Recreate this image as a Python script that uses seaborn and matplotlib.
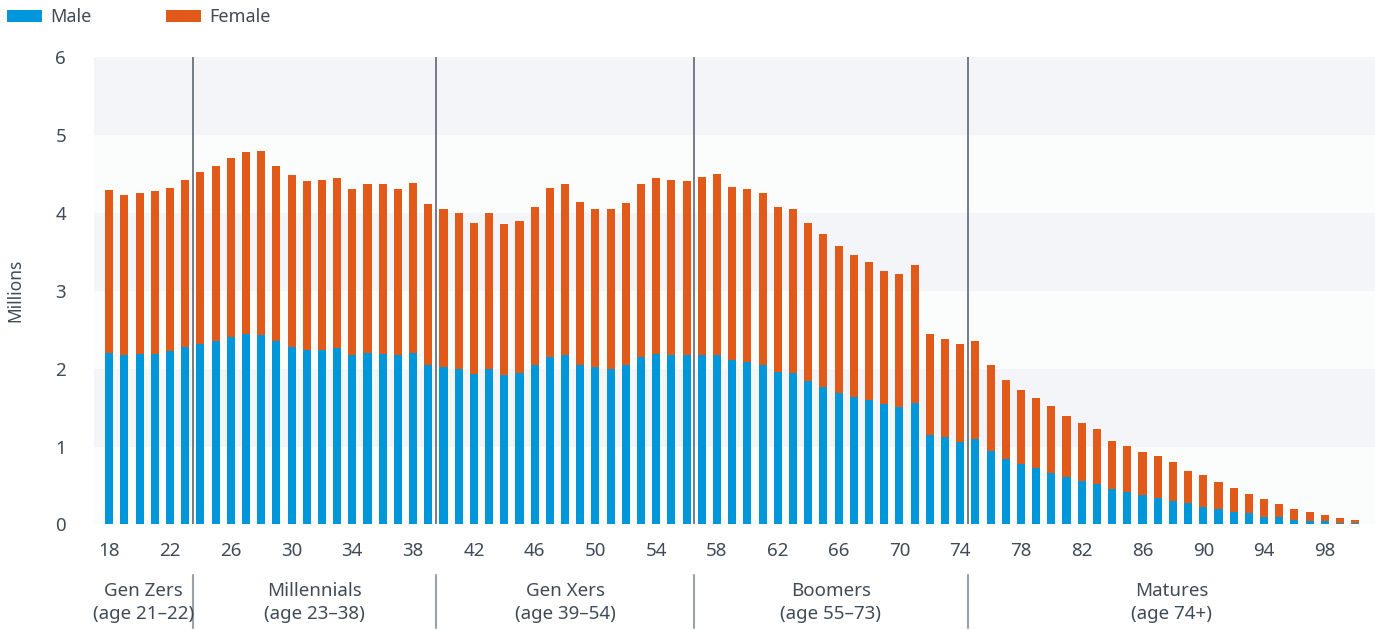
import numpy as np
import pandas as pd
import matplotlib
matplotlib.use("Agg")
import matplotlib.pyplot as plt
import matplotlib.transforms as mtransforms
from matplotlib.patches import Patch
import seaborn as sns

# ---------------- data ----------------
ages = list(range(18, 101))
male = [2.20, 2.17, 2.19, 2.19, 2.23, 2.28, 2.32, 2.35, 2.41, 2.45,
        2.43, 2.35, 2.28, 2.24, 2.24, 2.27, 2.17, 2.20, 2.19, 2.17,
        2.20, 2.05, 2.02, 1.99, 1.93, 1.99, 1.92, 1.94, 2.04, 2.15,
        2.17, 2.05, 2.02, 1.99, 2.04, 2.15, 2.19, 2.17, 2.17, 2.17,
        2.18, 2.11, 2.09, 2.05, 1.96, 1.94, 1.84, 1.76, 1.69, 1.64,
        1.60, 1.55, 1.51, 1.56, 1.15, 1.12, 1.06, 1.09, 0.94, 0.84,
        0.78, 0.73, 0.66, 0.61, 0.56, 0.52, 0.45, 0.42, 0.38, 0.34,
        0.30, 0.27, 0.22, 0.20, 0.16, 0.14, 0.10, 0.09, 0.06, 0.04,
        0.04, 0.02, 0.02]
female = [2.09, 2.06, 2.06, 2.09, 2.09, 2.14, 2.21, 2.25, 2.29, 2.33,
          2.36, 2.25, 2.21, 2.17, 2.18, 2.18, 2.14, 2.17, 2.18, 2.14,
          2.18, 2.06, 2.03, 2.01, 1.94, 2.01, 1.93, 1.96, 2.04, 2.17,
          2.20, 2.09, 2.03, 2.06, 2.08, 2.22, 2.26, 2.25, 2.24, 2.29,
          2.32, 2.22, 2.22, 2.20, 2.12, 2.11, 2.03, 1.97, 1.88, 1.82,
          1.77, 1.70, 1.70, 1.77, 1.30, 1.26, 1.26, 1.26, 1.10, 1.01,
          0.95, 0.89, 0.86, 0.78, 0.74, 0.71, 0.62, 0.59, 0.55, 0.54,
          0.50, 0.42, 0.41, 0.34, 0.31, 0.25, 0.23, 0.17, 0.14, 0.12,
          0.08, 0.06, 0.04]
x_ticks = list(range(18, 99, 4))
y_ticks = [0, 1, 2, 3, 4, 5, 6]
gen_names = ["Gen Zers\n(age 21\u201322)", "Millennials\n(age 23\u201338)",
             "Gen Xers\n(age 39\u201354)", "Boomers\n(age 55\u201373)",
             "Matures\n(age 74+)"]
gen_bounds = [17.0, 23.5, 39.5, 56.5, 74.5, 101.3]
series_names = ["Male", "Female"]

# ---------------- style ----------------
BLUE = "#0096DA"
ORANGE = "#E15A1A"
TEXT = "#404b56"

sns.set_style("white")
plt.rcParams["font.family"] = ["Noto Sans", "DejaVu Sans"]

df = pd.DataFrame({"age": ages, "male": male, "female": female})
df["total"] = df["male"] + df["female"]

fig = plt.figure(figsize=(13.75, 6.3), dpi=100)
ax = fig.add_axes([94 / 1375, 1 - 524.4 / 630, 1 - 94 / 1375, (524.4 - 57) / 630])

# background bands
for lo in range(6):
    ax.axhspan(lo, lo + 1, color="#f4f5f9" if lo % 2 == 1 else "#fbfcfc",
               lw=0, zorder=0)

sns.barplot(data=df, x="age", y="total", native_scale=True, width=0.53,
            color=ORANGE, saturation=1, errorbar=None, ax=ax, zorder=2,
            linewidth=0, edgecolor="none")
sns.barplot(data=df, x="age", y="male", native_scale=True, width=0.53,
            color=BLUE, saturation=1, errorbar=None, ax=ax, zorder=3,
            linewidth=0, edgecolor="none")

ax.set_xlim(gen_bounds[0], gen_bounds[-1])
ax.set_ylim(0, 6)
ax.set_xticks(x_ticks)
ax.set_xticklabels([str(t) for t in x_ticks])
ax.set_yticks(y_ticks)
ax.set_yticklabels([str(t) for t in y_ticks])
ax.tick_params(axis="both", length=0, labelsize=13.5, colors=TEXT)
ax.tick_params(axis="x", pad=13)
ax.tick_params(axis="y", pad=20)
ax.set_xlabel("")
ax.set_ylabel("Millions", fontsize=12.5, color=TEXT)
ax.yaxis.set_label_coords(-0.054, 0.5)
for s in ax.spines.values():
    s.set_visible(False)

# generation separators and labels
trans = mtransforms.blended_transform_factory(ax.transData, ax.transAxes)
for b in gen_bounds[1:-1]:
    ax.axvline(b, color="#5d6873", lw=1.2, zorder=4)
    ax.plot([b, b], [-0.109, -0.222], transform=trans, color="#9aa1a8",
            lw=1.5, clip_on=False)
for i, name in enumerate(gen_names):
    cx = (gen_bounds[i] + gen_bounds[i + 1]) / 2
    ax.text(cx, -0.167, name, transform=trans, ha="center", va="center",
            fontsize=13.5, color=TEXT, linespacing=1.4)

# legend
handles = [Patch(facecolor=BLUE, edgecolor="none"),
           Patch(facecolor=ORANGE, edgecolor="none")]
fig.legend(handles, series_names, loc="upper left",
           bbox_to_anchor=(-0.004, 1.007), ncol=2, frameon=False,
           fontsize=13, handlelength=1.95, handleheight=0.6,
           handletextpad=0.45, columnspacing=4.1, labelcolor=TEXT,
           borderaxespad=0.3)

fig.savefig("out.png", dpi=100)
